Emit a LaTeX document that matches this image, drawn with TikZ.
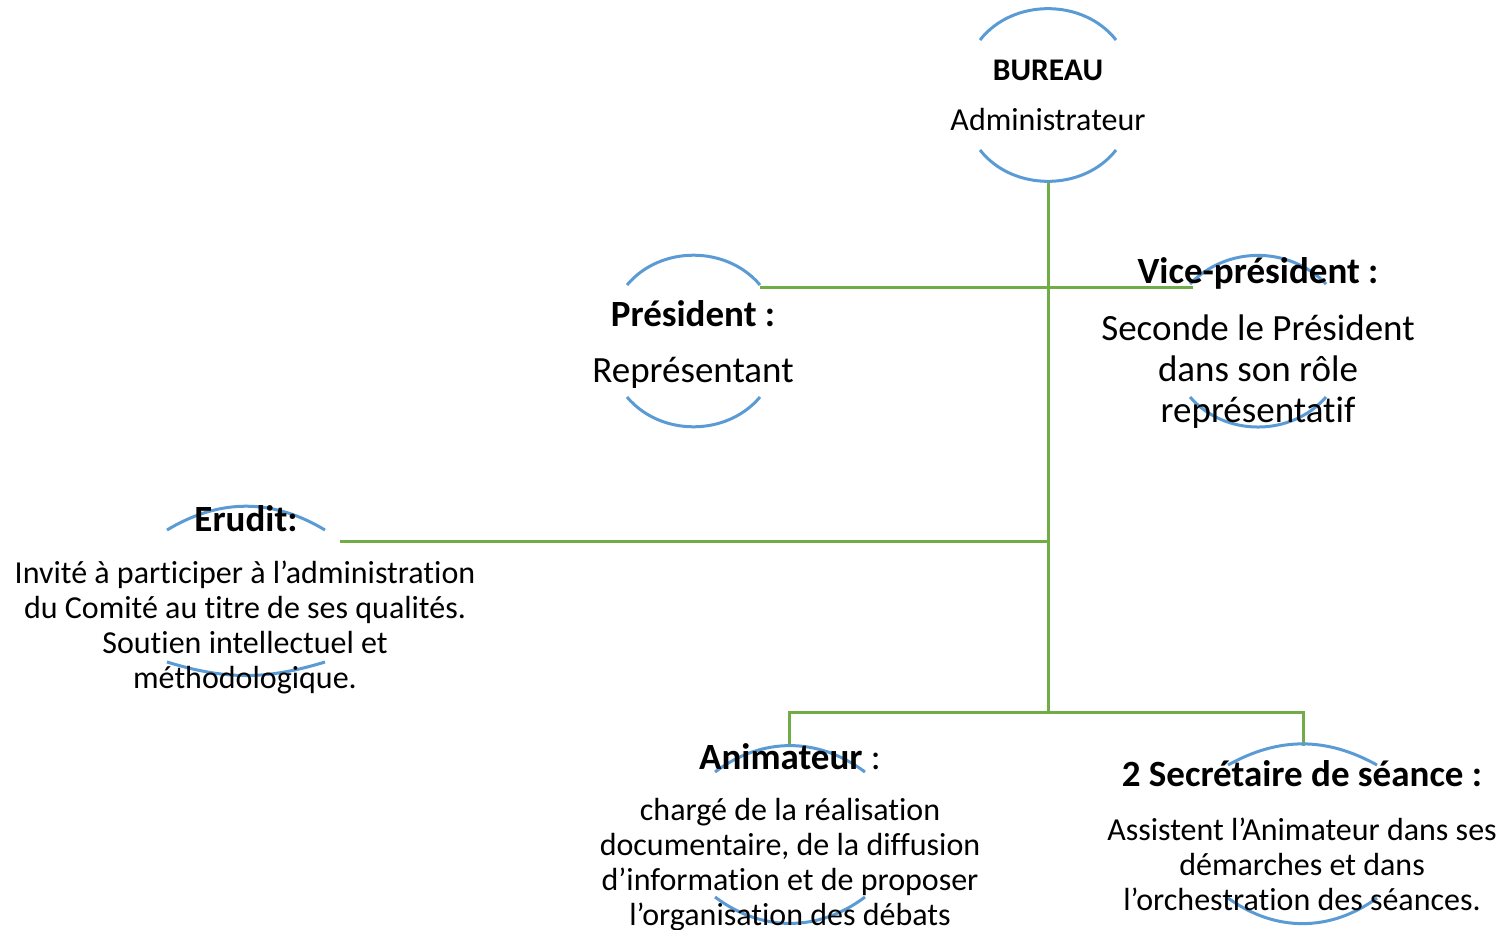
\documentclass[tikz,border=0pt]{standalone}
\usepackage{fontspec}
\setmainfont{Carlito}[Ligatures=NoCommon]
\definecolor{arcblue}{HTML}{5B9BD5}
\definecolor{linkgreen}{HTML}{70AD47}

\begin{document}
\begin{tikzpicture}[
  x=1pt, y=-1pt,
  arc/.style={arcblue, line width=3pt},
  link/.style={linkgreen, line width=3pt},
  head/.style={font=\bfseries\fontsize{37}{42}\selectfont, inner sep=0pt},
  body/.style={align=center, font=\fontsize{32}{35}\selectfont, inner sep=0pt},
  big/.style={align=center, font=\fontsize{37}{41}\selectfont, inner sep=0pt}]
  \useasboundingbox (0,0) rectangle (1501,929);
  % anchor points of the connectors
  \coordinate (bureau-s) at (1048,183);
  \coordinate (pres-e) at (760,287);
  \coordinate (vice-w) at (1193,287);
  \coordinate (erudit-e) at (340,541);
  \coordinate (trunk-e) at (1048,541);
  \coordinate (hub) at (1048,712);
  \coordinate (anim-n) at (789,747);
  \coordinate (secr-n) at (1303,746);
  % connectors
  \draw[link] (bureau-s) -- (hub);
  \draw[link] (pres-e) -- (vice-w);
  \draw[link] (erudit-e) -- (trunk-e);
  \draw[link] (anim-n) |- (hub) -| (secr-n);
  % arcs round each role
  \draw[arc] (980,40) to[bend left=52] (1116,40);
  \draw[arc] (980,150) to[bend right=52] (1116,150);
  \draw[arc] (627,285) to[bend left=50] (760,285);
  \draw[arc] (627,397) to[bend right=50] (760,397);
  \draw[arc] (1190,284) to[bend left=46] (1326,284);
  \draw[arc] (1190,397) to[bend right=49] (1326,397);
  \draw[arc] (167,530) to[bend left=31] (325,530);
  \draw[arc] (167,662) to[bend right=17] (325,662);
  \draw[arc] (715,772) to[bend left=37] (865,772);
  \draw[arc] (715,897) to[bend right=37] (865,897);
  \draw[arc] (1228,765) to[bend left=29] (1377,765);
  \draw[arc] (1228,898) to[bend right=36] (1377,898);
  % roles
  \node[head, font=\bfseries\fontsize{31.5}{36}\selectfont] (bureau) at (1048,70) {BUREAU};
  \node[body] (bureau-txt) at (1048,120) {Administrateur};
  \node[head] (pres) at (693,314) {Président :};
  \node[big] (pres-txt) at (693,373) {Représentant};
  \node[head] (vice) at (1258,273) {Vice-président :};
  \node[big] (vice-txt) at (1258,372) {Seconde le Président\\dans son rôle\\représentatif};
  \node[head] (erudit) at (246,519) {Erudit:};
  \node[body] (erudit-txt) at (245,627)
    {Invité à participer à l’administration\\du Comité au titre de ses qualités.\\Soutien intellectuel et\\méthodologique.};
  \node[head] (anim) at (790,757) {Animateur \mdseries:};
  \node[body] (anim-txt) at (790,865)
    {chargé de la réalisation\\documentaire, de la diffusion\\d’information et de proposer\\l’organisation des débats};
  \node[head] (secr) at (1302,774) {2 Secrétaire de séance :};
  \node[body] (secr-txt) at (1302,864)
    {Assistent l’Animateur dans ses\\démarches et dans\\l’orchestration des séances.};
\end{tikzpicture}
\end{document}
